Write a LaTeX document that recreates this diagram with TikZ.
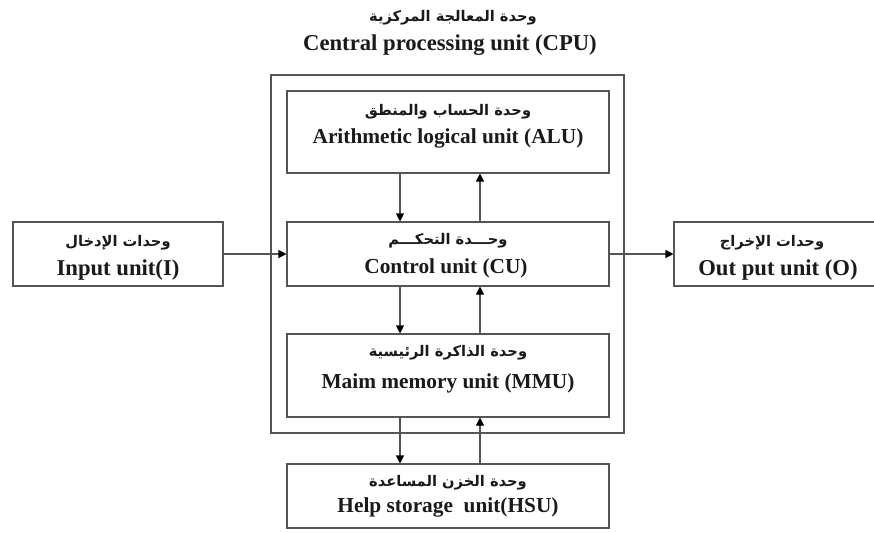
\documentclass[tikz,border=0pt]{standalone}
\usepackage{fontspec}
\setmainfont{Liberation Serif}
\newfontfamily\arabicfont[Script=Arabic]{DejaVu Sans}
\TeXXeTstate=1
\usetikzlibrary{arrows.meta}
\definecolor{linegray}{HTML}{555555}
\definecolor{txt}{HTML}{1A1A1A}
\begin{document}
\begin{tikzpicture}[x=0.75pt,y=-0.75pt,
  box/.style={draw=linegray, line width=0.8pt, inner sep=0pt},
  en/.style={font=\bfseries\fontsize{16}{18}\selectfont, inner sep=0pt, text=txt},
  enbig/.style={font=\bfseries\fontsize{17}{19}\selectfont, inner sep=0pt, text=txt},
  ar/.style={font=\arabicfont\bfseries\fontsize{11}{13}\selectfont, inner sep=0pt, text=txt},
  arr/.style={draw=linegray, line width=0.8pt, -{Triangle[length=6pt,width=6pt,color=black]}}]
\useasboundingbox (0,0) rectangle (874,532);
\clip (0,0) rectangle (874,532);
\fill[white] (0,0) rectangle (874,532);

% title
\node[ar] (cpu-ar) at (453,18) {\beginR وحدة المعالجة المركزية\endR};
\node[enbig] (cpu-en) at (450,45) {Central processing unit (CPU)};

% boxes
\node[box, minimum width=264.75pt, minimum height=268.5pt] (cpu) at (447.5,254) {};
\node[box, minimum width=241.5pt, minimum height=61.5pt] (alu) at (448,132) {};
\node[box, minimum width=241.5pt, minimum height=48pt] (cu) at (448,254) {};
\node[box, minimum width=241.5pt, minimum height=62.25pt] (mmu) at (448,375.5) {};
\node[box, minimum width=241.5pt, minimum height=48pt] (hsu) at (448,496) {};
\node[box, minimum width=157.5pt, minimum height=48pt] (inp) at (118,254) {};
\node[box, minimum width=156pt, minimum height=48pt] (outp) at (778,254) {};

% texts
\node[ar] (alu-ar) at (448,112) {\beginR وحدة الحساب والمنطق\endR};
\node[en] (alu-en) at (448,138) {Arithmetic logical unit (ALU)};
\node[ar] (cu-ar) at (448,241) {\beginR وحـــدة التحكـــم\endR};
\node[en] (cu-en) at (446,268) {Control unit (CU)};
\node[ar] (mmu-ar) at (448,353) {\beginR وحدة الذاكرة الرئيسية\endR};
\node[en] (mmu-en) at (448,383) {Maim memory unit (MMU)};
\node[ar] (hsu-ar) at (448,483) {\beginR وحدة الخزن المساعدة\endR};
\node[en] (hsu-en) at (448,507) {Help storage\ \ unit(HSU)};
\node[ar] (inp-ar) at (118,243) {\beginR وحدات الإدخال\endR};
\node[enbig] (inp-en) at (118,270) {Input unit(I)};
\node[ar] (outp-ar) at (772,243) {\beginR وحدات الإخراج\endR};
\node[enbig] (outp-en) at (778,270) {Out put unit (O)};

% connectors
\coordinate (xl) at (400,0);
\coordinate (xr) at (480,0);
\draw[arr] (alu.south -| xl) -- (cu.north -| xl);
\draw[arr] (cu.north -| xr) -- (alu.south -| xr);
\draw[arr] (cu.south -| xl) -- (mmu.north -| xl);
\draw[arr] (mmu.north -| xr) -- (cu.south -| xr);
\draw[arr] (mmu.south -| xl) -- (hsu.north -| xl);
\draw[arr] (hsu.north -| xr) -- (mmu.south -| xr);
\draw[arr] (inp.east) -- (cu.west);
\draw[arr] (cu.east) -- (outp.west);
\end{tikzpicture}
\end{document}
